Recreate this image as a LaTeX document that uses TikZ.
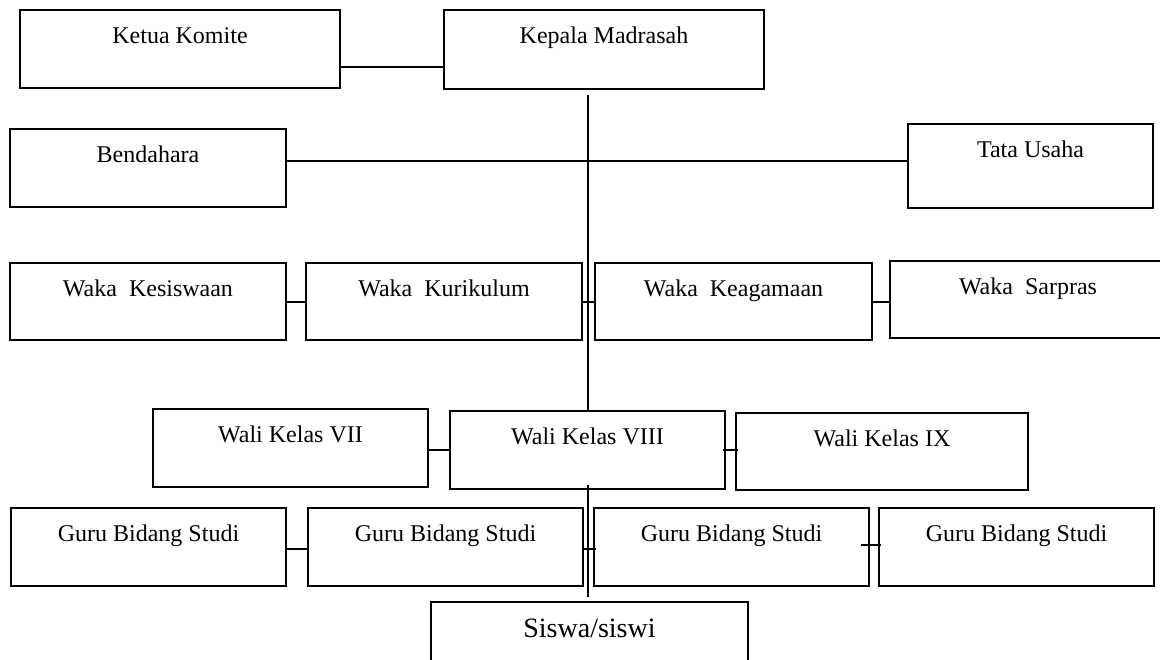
\documentclass[tikz,border=0pt]{standalone}
\usepackage{fontspec}
\setmainfont{Liberation Serif}
\usetikzlibrary{positioning, calc}

\begin{document}
\begin{tikzpicture}[x=0.5pt, y=-0.5pt, font=\fontsize{12}{14}\selectfont,
  kotak/.style 2 args={draw, line width=1pt, anchor=north west, inner sep=0pt,
    minimum width=#1*0.5pt, text height=16.5pt, text depth=(#2-33)*0.5pt},
  garis/.style={line width=1pt}]
\path[use as bounding box, clip] (0,0) rectangle (1160,659);
\node[kotak={320}{78}] (ketua) at (19,9) {Ketua Komite};
\node[kotak={320}{79}] (kepala) at (443,9) {Kepala Madrasah};
\node[kotak={276}{78}] (bendahara) at (9,128) {Bendahara};
\node[kotak={245}{84}] (tu) at (907,123) {Tata Usaha};
\node[kotak={276}{77}] (kesiswaan) at (9,262) {Waka~~Kesiswaan};
\node[kotak={276}{77}] (kurikulum) at (305,262) {Waka~~Kurikulum};
\node[kotak={277}{77}] (keagamaan) at (594,262) {Waka~~Keagamaan};
\node[kotak={276}{77}] (sarpras) at (889,260) {Waka~~Sarpras};
\node[kotak={275}{78}] (wali7) at (152,408) {Wali Kelas VII};
\node[kotak={275}{78}] (wali8) at (449,410) {Wali Kelas VIII};
\node[kotak={292}{77}] (wali9) at (735,412) {Wali Kelas IX};
\foreach \n/\x in {1/10, 2/307, 3/593, 4/878}
  \node[kotak={275}{78}] (guru\n) at (\x,507) {Guru Bidang Studi};
\node[kotak={317}{80}, font=\fontsize{14}{16}\selectfont, text height=17.5pt] (siswa) at (430,601) {Siswa/siswi};

\coordinate (k1) at ([yshift=-9pt]ketua.east);
\coordinate (b1) at ([yshift=3.5pt]bendahara.east);
\draw[garis] (k1) -- (k1 -| kepala.west);
\draw[garis] (b1) -- (b1 -| tu.west);
\draw[garis] ([yshift=-2.5pt]kepala.south -| wali8.north) -- (wali8.north);
\draw[garis] ([yshift=2.5pt]wali8.south) -- ([yshift=2pt]siswa.north -| wali8.south);
\draw[garis] (kesiswaan.east) -- (kurikulum.west);
\draw[garis] (kurikulum.east) -- (keagamaan.west);
\draw[garis] (keagamaan.east) -- (keagamaan.east -| sarpras.west);
\draw[garis] (wali8.west -| wali7.east) -- (wali8.west);
\draw[garis] ([xshift=-1.5pt]wali8.east) -- ([xshift=1.5pt]wali8.east -| wali9.west);
\draw[garis] ([yshift=-1pt]guru1.east) -- ([yshift=-1pt]guru2.west);
\draw[garis] ([xshift=-1pt, yshift=-1pt]guru2.east) -- ([xshift=1.5pt, yshift=-1pt]guru3.west);
\draw[garis] ([xshift=-4.5pt, yshift=1pt]guru3.east) -- ([xshift=1.5pt, yshift=1pt]guru3.east -| guru4.west);
\end{tikzpicture}
\end{document}
